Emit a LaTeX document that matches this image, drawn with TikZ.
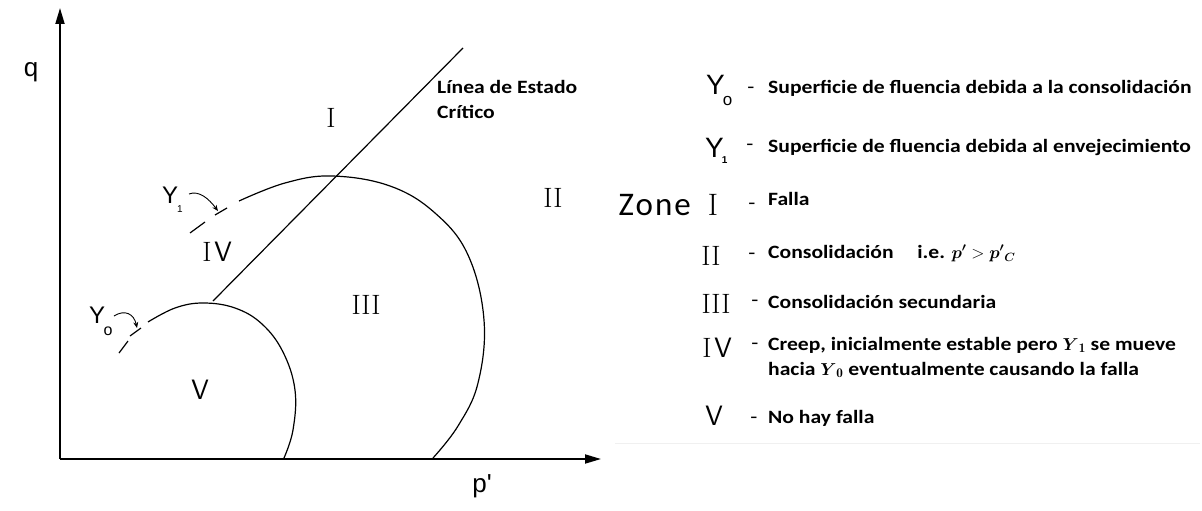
\documentclass[tikz,border=0pt]{standalone}
\usepackage{amsmath}
\usepackage{fontspec}
\newfontfamily\carl[FakeStretch=1.15]{Carlito}
\newfontfamily\lsans{Liberation Sans}
\newfontfamily\zonefont[LetterSpace=6]{Carlito}
\usetikzlibrary{arrows.meta}
\tikzset{
  axisline/.style={line width=1.8pt, -{Triangle[length=16pt,width=9pt]}},
  curveline/.style={line width=1.2pt},
  tickline/.style={line width=1.2pt},
  ptr/.style={line width=0.9pt, -{Stealth[length=6pt,width=5pt]}},
  roman/.style={font=\fontsize{28}{30}\selectfont\rmfamily, inner sep=0pt},
  sansnum/.style={font=\fontsize{28}{30}\selectfont\sffamily, inner sep=0pt},
  lbl/.style={font=\fontsize{26}{28}\selectfont\lsans, inner sep=0pt},
  ylbl/.style={font=\fontsize{24}{26}\selectfont\lsans, inner sep=0pt},
  bigy/.style={font=\fontsize{28}{30}\selectfont\lsans, inner sep=0pt, anchor=base west},
  legtxt/.style={font=\fontsize{18.8}{22}\selectfont\carl\bfseries, inner sep=0pt, anchor=base west},
  legdash/.style={font=\fontsize{20}{22}\selectfont\carl, inner sep=0pt, anchor=base},
}
\begin{document}
\begin{tikzpicture}[x=1pt,y=-1pt]
\useasboundingbox (0,0) rectangle (1202,511);
% axes
\coordinate (O) at (60,459);
\coordinate (ytip) at (60,8);
\coordinate (xtip) at (601,459);
\draw[axisline] (O) -- (ytip);
\draw[axisline] (O) -- (xtip);
\node[lbl] (q) at (31,72) {q};
\node[lbl] (p) at (482,486) {p'};
% critical state line
\coordinate (c1) at (213,301);
\coordinate (c2) at (463,48);
\draw[curveline] (c1) -- (c2);
\node[legtxt] (csl1) at (437,93) {Línea de Estado};
\node[legtxt] (csl2) at (437,118) {Crítico};
% yield curves
\draw[curveline] plot[smooth, tension=0.65] coordinates {(239,201) (285,183) (332,176) (390,186) (435,213) (468,255) (484,320) (478,383) (458,426) (433,458)};
\draw[curveline] plot[smooth, tension=0.65] coordinates {(148,322) (175,308) (203,303) (235,308) (262,324) (283,352) (295,390) (293,430) (284,458)};
% dashed continuations
\draw[tickline] (215,215) -- (227,208);
\draw[tickline] (190,233) -- (205,222);
\draw[tickline] (130,336) -- (141,328);
\draw[tickline] (119,353) -- (128,341);
% Y labels in plot
\node[ylbl, anchor=base west] (y1p) at (162,203) {Y\kern-1pt\raisebox{-9pt}{\fontsize{10}{10}\selectfont 1}};
\node[ylbl, anchor=base west] (y0p) at (89,323) {Y\kern-1.5pt\raisebox{-12pt}{\fontsize{16}{16}\selectfont o}};
\coordinate (a1s) at (189,194);
\coordinate (a1e) at (218,211);
\draw[ptr] (a1s) .. controls (199,190) and (209,199) .. (a1e);
\coordinate (a0s) at (114,316);
\coordinate (a0e) at (137,328);
\draw[ptr] (a0s) .. controls (125,309) and (134,314) .. (a0e);
% zone labels in plot
\node[roman] (zI) at (331,118) {I};
\node[roman] (zII) at (553,198) {II};
\node[roman] (zIII) at (366,305) {III};
\node[roman] (zIV) at (207,252) {I};
\node[sansnum] (zIVb) at (223,252) {V};
\node[sansnum] (zV) at (200,390) {V};
% legend
\node[bigy] (lY0) at (706,95) {Y\kern-2pt\raisebox{-10pt}{\fontsize{17}{17}\selectfont o}};
\node[legdash] (d1) at (751,93) {-};
\node[legtxt] (t1) at (768,93) {Superficie de fluencia debida a la consolidación};
\node[bigy] (lY1) at (705,157) {Y\kern-2pt\raisebox{-6pt}{\fontsize{10}{10}\selectfont\bfseries 1}};
\node[legdash] (d2) at (750,150) {-};
\node[legtxt] (t2) at (768,152) {Superficie de fluencia debida al envejecimiento};
\node[font=\fontsize{33}{34}\selectfont\zonefont, inner sep=0pt, anchor=base east] (zone) at (691,215) {Zone};
\node[roman, anchor=base, font=\fontsize{31}{32}\selectfont\rmfamily] (lI) at (713,215) {I};
\node[legdash] (d3) at (752,209) {-};
\node[legtxt] (t3) at (768,205) {Falla};
\node[roman, anchor=base] (lII) at (711,265) {II};
\node[legdash] (d4) at (752,259) {-};
\node[legtxt] (t4) at (768,258) {Consolidación\quad\ i.e. $\boldsymbol{p'} > \boldsymbol{p'}_{\boldsymbol{C}}$};
\node[roman, anchor=base] (lIII) at (716,313) {III};
\node[legdash] (d5) at (755,306) {-};
\node[legtxt] (t5) at (768,308) {Consolidación secundaria};
\node[roman, anchor=base] (lIVa) at (707,357) {I};
\node[sansnum, anchor=base] (lIVb) at (723,357) {V};
\node[legdash] (d6) at (755,349) {-};
\node[legtxt] (t6) at (768,350) {Creep, inicialmente estable pero $\boldsymbol{Y}_{\mathbf{1}}$ se mueve};
\node[legtxt] (t7) at (768,375) {hacia $\boldsymbol{Y}_{\mathbf{0}}$ eventualmente causando la falla};
\node[sansnum, anchor=base] (lV) at (714,425) {V};
\node[legdash] (d8) at (754,423) {-};
\node[legtxt] (t8) at (768,423) {No hay falla};
\draw[gray!12] (615,443) -- (1200,443);
\end{tikzpicture}
\end{document}
